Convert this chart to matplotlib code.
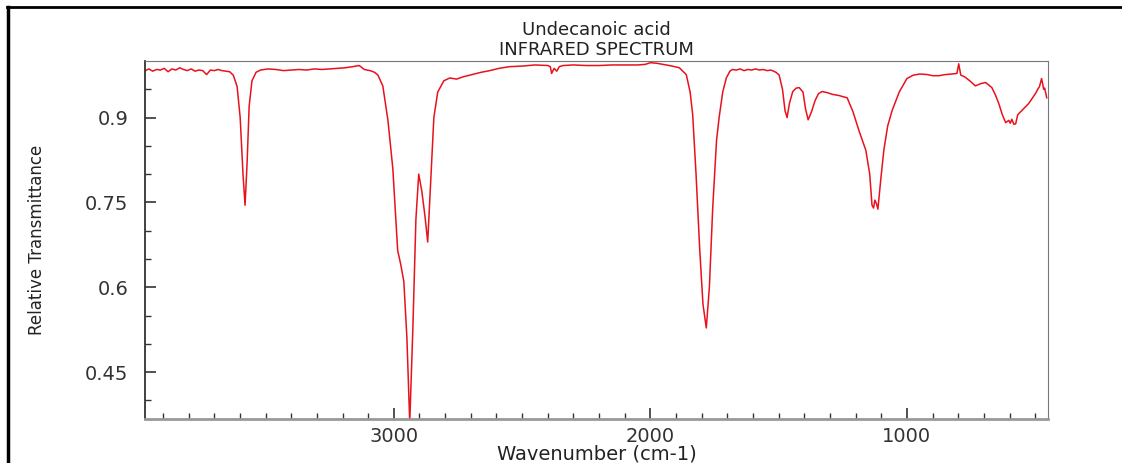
import matplotlib
matplotlib.use("Agg")
import matplotlib.pyplot as plt
from matplotlib.lines import Line2D

# spectrum (wavenumber cm-1, relative transmittance)
wavenumber = [
    3968, 3955, 3940, 3925, 3910, 3895, 3880, 3865, 3850, 3835,
    3820, 3805, 3790, 3775, 3760, 3745, 3730, 3715, 3700, 3685,
    3670, 3655, 3640, 3626, 3611, 3599, 3588, 3580, 3572, 3564,
    3553, 3537, 3520, 3490, 3460, 3430, 3400, 3370, 3340, 3310,
    3280, 3250, 3220, 3190, 3160, 3135, 3115, 3093, 3075, 3062,
    3043, 3023, 3004, 2992, 2985, 2973, 2961, 2949, 2938, 2926, 2914,
    2903, 2891, 2879, 2868, 2856, 2844, 2829, 2805, 2782, 2755,
    2730, 2704, 2660, 2626, 2590, 2549, 2500, 2450, 2400, 2390,
    2385, 2375, 2365, 2355, 2340, 2300, 2250, 2200, 2150, 2100,
    2050, 2020, 2000, 1975, 1950, 1926, 1905, 1887, 1860, 1845,
    1835, 1822, 1808, 1795, 1782, 1770, 1757, 1742, 1732, 1718,
    1704, 1690, 1680, 1665, 1650, 1635, 1620, 1605, 1590, 1575,
    1560, 1545, 1530, 1510, 1498, 1485, 1475, 1467, 1458, 1445,
    1432, 1420, 1405, 1395, 1385, 1372, 1358, 1345, 1331, 1310,
    1290, 1265, 1250, 1233, 1210, 1187, 1160, 1145, 1136, 1130,
    1125, 1119, 1113, 1102, 1090, 1075, 1058, 1030, 1000, 975,
    949, 920, 900, 875, 850, 825, 805, 798, 790, 775,
    755, 733, 712, 693, 680, 669, 655, 642, 628, 615,
    603, 597, 591, 583, 576, 568, 553, 540, 525, 510,
    498, 490, 483, 475, 470, 467, 463, 455,
]
transmittance = [
    0.983, 0.986, 0.982, 0.985, 0.984, 0.987, 0.981, 0.986, 0.984, 0.988,
    0.985, 0.983, 0.986, 0.982, 0.984, 0.983, 0.976, 0.984, 0.983, 0.985,
    0.983, 0.982, 0.981, 0.975, 0.955, 0.900, 0.800, 0.745, 0.820, 0.920,
    0.965, 0.980, 0.984, 0.986, 0.985, 0.983, 0.984, 0.985, 0.984, 0.986,
    0.985, 0.986, 0.987, 0.988, 0.990, 0.992, 0.985, 0.983, 0.980, 0.975,
    0.956, 0.895, 0.810, 0.720, 0.665, 0.640, 0.610, 0.510, 0.360, 0.525, 0.720,
    0.800, 0.770, 0.727, 0.680, 0.790, 0.900, 0.945, 0.965, 0.970, 0.968,
    0.972, 0.975, 0.980, 0.983, 0.987, 0.990, 0.991, 0.993, 0.992, 0.990,
    0.978, 0.987, 0.982, 0.990, 0.992, 0.993, 0.992, 0.992, 0.993, 0.993,
    0.993, 0.994, 0.997, 0.996, 0.994, 0.992, 0.990, 0.988, 0.976, 0.945,
    0.905, 0.800, 0.670, 0.570, 0.528, 0.600, 0.740, 0.860, 0.900, 0.945,
    0.970, 0.982, 0.985, 0.984, 0.986, 0.983, 0.985, 0.984, 0.986, 0.984,
    0.985, 0.983, 0.984, 0.980, 0.975, 0.950, 0.912, 0.900, 0.925, 0.946,
    0.952, 0.953, 0.945, 0.915, 0.896, 0.910, 0.930, 0.942, 0.946, 0.944,
    0.941, 0.939, 0.937, 0.935, 0.910, 0.877, 0.842, 0.800, 0.745, 0.740,
    0.754, 0.748, 0.738, 0.790, 0.842, 0.885, 0.912, 0.945, 0.969, 0.975,
    0.977, 0.976, 0.974, 0.974, 0.976, 0.977, 0.978, 0.995, 0.975, 0.972,
    0.965, 0.956, 0.960, 0.962, 0.957, 0.953, 0.940, 0.925, 0.905, 0.891,
    0.895, 0.890, 0.897, 0.888, 0.889, 0.905, 0.912, 0.918, 0.925, 0.935,
    0.943, 0.950, 0.955, 0.969, 0.958, 0.950, 0.952, 0.935,
]

fig = plt.figure(figsize=(11.22, 4.63), dpi=100)
ax = fig.add_axes([145/1122, 44/463, 903/1122, 358/463])

ax.plot(wavenumber, transmittance, color="#e8121c", linewidth=1.1)

ax.set_xlim(3970, 450)
ax.set_ylim(0.367, 1.0)
ax.set_xticks([3000, 2000, 1000])
ax.set_xticks(range(3900, 449, -100), minor=True)
ax.set_yticks([0.45, 0.6, 0.75, 0.9])
ax.set_yticklabels(["0.45", "0.6", "0.75", "0.9"])
ax.set_yticks([0.4, 0.5, 0.55, 0.65, 0.7, 0.8, 0.85, 0.95], minor=True)
ax.tick_params(which="both", direction="in", colors="#333333", labelsize=14,
               labelcolor="#333333")
ax.tick_params(which="major", length=8, width=1.2)
ax.tick_params(which="minor", length=4, width=1.0)
ax.tick_params(axis="y", pad=12)
ax.tick_params(axis="x", pad=6)

for side in ["top", "right"]:
    ax.spines[side].set_color("#777777")
ax.spines["left"].set_color("#333333")
ax.spines["bottom"].set_color("#999999")
ax.spines["bottom"].set_linewidth(2)
ax.spines["left"].set_linewidth(1.3)

ax.set_xlabel("Wavenumber (cm-1)", fontsize=14, color="#222222", labelpad=-1)
ax.set_ylabel("Relative Transmittance", fontsize=12, color="#222222", labelpad=28)
ax.set_title("Undecanoic acid\nINFRARED SPECTRUM", fontsize=13, color="#222222",
             linespacing=1.2, pad=4)

# outer frame (top and left edges only)
fig.add_artist(Line2D([7/1122, 1.0], [1 - 7/463, 1 - 7/463], transform=fig.transFigure,
                      color="black", linewidth=2))
fig.add_artist(Line2D([8/1122, 8/1122], [0, 1 - 7/463], transform=fig.transFigure,
                      color="black", linewidth=2.5))

fig.savefig("out.png", dpi=100)
